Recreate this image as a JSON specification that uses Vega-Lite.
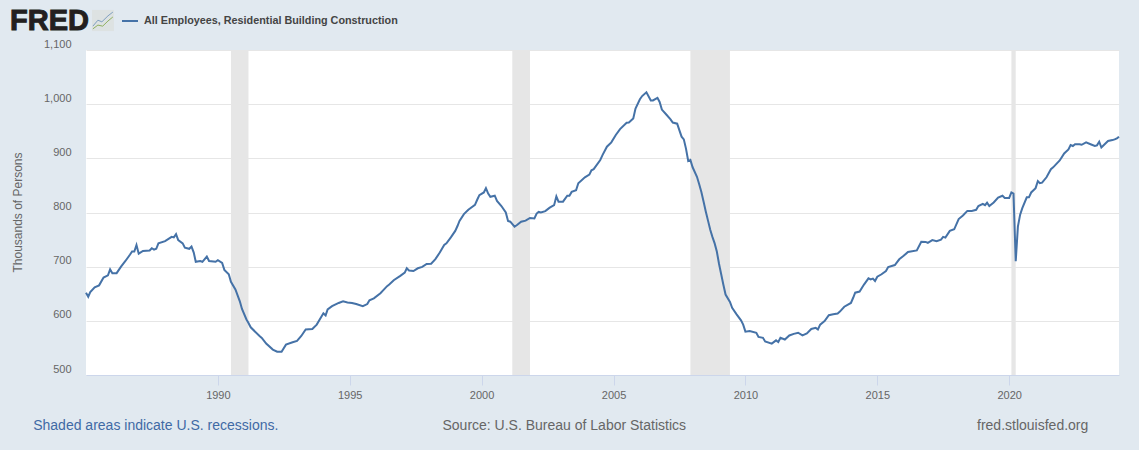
{"$schema":"https://vega.github.io/schema/vega-lite/v6.json","width":1033,"height":325,"autosize":"none","padding":{"left":86,"top":50,"right":20,"bottom":75},"background":"#e1e9f0","config":{"font":"Liberation Sans","view":{"fill":"#ffffff","stroke":null}},
"datasets":{
"employees":[
{"date":"1985-01-01","value":652},{"date":"1985-02-01","value":644.5},{"date":"1985-03-01","value":653},{"date":"1985-05-01","value":662},{"date":"1985-07-01","value":665.5},{"date":"1985-09-01","value":680},{"date":"1985-11-01","value":684},{"date":"1985-12-01","value":695},
{"date":"1986-01-01","value":688},{"date":"1986-03-01","value":688},{"date":"1986-05-01","value":700},{"date":"1986-07-01","value":710.5},{"date":"1986-09-01","value":722},{"date":"1986-10-01","value":728},{"date":"1986-11-01","value":728},{"date":"1986-12-01","value":740},
{"date":"1987-01-01","value":724},{"date":"1987-03-01","value":729},{"date":"1987-06-01","value":730},{"date":"1987-07-01","value":734},{"date":"1987-08-01","value":731.5},{"date":"1987-09-01","value":733},{"date":"1987-10-01","value":743},
{"date":"1988-01-01","value":747},{"date":"1988-04-01","value":755},{"date":"1988-05-01","value":754},{"date":"1988-06-01","value":760},{"date":"1988-07-01","value":749},{"date":"1988-09-01","value":743},{"date":"1988-10-01","value":735},{"date":"1988-12-01","value":733},
{"date":"1989-01-01","value":737},{"date":"1989-02-01","value":726},{"date":"1989-03-01","value":709},{"date":"1989-05-01","value":710.5},{"date":"1989-06-01","value":709},{"date":"1989-08-01","value":718.5},{"date":"1989-09-01","value":710.5},{"date":"1989-12-01","value":709},
{"date":"1990-01-01","value":712},{"date":"1990-03-01","value":707},{"date":"1990-04-01","value":694},{"date":"1990-06-01","value":686},{"date":"1990-07-01","value":672},{"date":"1990-09-01","value":658},{"date":"1990-11-01","value":636},{"date":"1990-12-01","value":622},
{"date":"1991-02-01","value":602.5},{"date":"1991-03-01","value":596},{"date":"1991-04-01","value":588},{"date":"1991-08-01","value":572},{"date":"1991-09-01","value":568.5},{"date":"1991-11-01","value":558},
{"date":"1992-02-01","value":547},{"date":"1992-04-01","value":543},{"date":"1992-06-01","value":543},{"date":"1992-08-01","value":556},{"date":"1992-11-01","value":560.5},
{"date":"1993-01-01","value":563},{"date":"1993-03-01","value":572},{"date":"1993-05-01","value":584},{"date":"1993-08-01","value":585},{"date":"1993-10-01","value":593},
{"date":"1994-01-01","value":614},{"date":"1994-02-01","value":610},{"date":"1994-03-01","value":621},{"date":"1994-05-01","value":627},{"date":"1994-08-01","value":633},{"date":"1994-10-01","value":636},{"date":"1994-12-01","value":634},
{"date":"1995-02-01","value":633},{"date":"1995-04-01","value":631},{"date":"1995-07-01","value":627},{"date":"1995-09-01","value":631},{"date":"1995-10-01","value":638},{"date":"1995-12-01","value":641.5},
{"date":"1996-03-01","value":651},{"date":"1996-06-01","value":664},{"date":"1996-07-01","value":667},{"date":"1996-09-01","value":675},{"date":"1996-12-01","value":683},
{"date":"1997-02-01","value":689},{"date":"1997-03-01","value":697},{"date":"1997-04-01","value":693},{"date":"1997-06-01","value":692},{"date":"1997-08-01","value":697},{"date":"1997-10-01","value":699.5},{"date":"1997-12-01","value":705},
{"date":"1998-02-01","value":705.5},{"date":"1998-04-01","value":714},{"date":"1998-06-01","value":726},{"date":"1998-08-01","value":740},{"date":"1998-09-01","value":743},{"date":"1998-11-01","value":754},
{"date":"1999-01-01","value":766},{"date":"1999-02-01","value":775},{"date":"1999-03-01","value":784.5},{"date":"1999-05-01","value":797},{"date":"1999-07-01","value":805},{"date":"1999-10-01","value":814},{"date":"1999-11-01","value":823.5},{"date":"1999-12-01","value":832},
{"date":"2000-02-01","value":837},{"date":"2000-03-01","value":845},{"date":"2000-04-01","value":835},{"date":"2000-05-01","value":829},{"date":"2000-07-01","value":831},{"date":"2000-08-01","value":821.5},{"date":"2000-10-01","value":812},{"date":"2000-12-01","value":800},
{"date":"2001-01-01","value":784.5},{"date":"2001-02-01","value":783},{"date":"2001-04-01","value":774},{"date":"2001-05-01","value":776.5},{"date":"2001-07-01","value":783},{"date":"2001-09-01","value":785},{"date":"2001-11-01","value":790},
{"date":"2002-01-01","value":789},{"date":"2002-02-01","value":798},{"date":"2002-03-01","value":801},{"date":"2002-04-01","value":800},{"date":"2002-06-01","value":802.5},{"date":"2002-08-01","value":809},{"date":"2002-10-01","value":813.5},{"date":"2002-11-01","value":829.6},{"date":"2002-12-01","value":820},
{"date":"2003-02-01","value":820},{"date":"2003-04-01","value":831},{"date":"2003-05-01","value":831},{"date":"2003-06-01","value":838},{"date":"2003-08-01","value":841},{"date":"2003-09-01","value":854},{"date":"2003-12-01","value":865},
{"date":"2004-02-01","value":870},{"date":"2004-03-01","value":878},{"date":"2004-04-01","value":880},{"date":"2004-07-01","value":897},{"date":"2004-08-01","value":906},{"date":"2004-10-01","value":921.5},{"date":"2004-12-01","value":929.5},
{"date":"2005-02-01","value":943},{"date":"2005-04-01","value":954},{"date":"2005-07-01","value":965.6},{"date":"2005-08-01","value":966},{"date":"2005-10-01","value":973.6},{"date":"2005-11-01","value":992},
{"date":"2006-01-01","value":1009},{"date":"2006-02-01","value":1015},{"date":"2006-04-01","value":1022},{"date":"2006-06-01","value":1007},{"date":"2006-07-01","value":1007},{"date":"2006-09-01","value":1011.7},{"date":"2006-10-01","value":1004},{"date":"2006-11-01","value":990},
{"date":"2007-01-01","value":981},{"date":"2007-03-01","value":972},{"date":"2007-04-01","value":966},{"date":"2007-06-01","value":964},{"date":"2007-07-01","value":952},{"date":"2007-08-01","value":940},{"date":"2007-09-01","value":935},{"date":"2007-10-01","value":918},{"date":"2007-11-01","value":895},{"date":"2007-12-01","value":897},
{"date":"2008-01-01","value":883.5},{"date":"2008-03-01","value":866},{"date":"2008-04-01","value":852},{"date":"2008-05-01","value":838},{"date":"2008-06-01","value":820},{"date":"2008-07-01","value":802},{"date":"2008-08-01","value":785},{"date":"2008-09-01","value":768},{"date":"2008-10-01","value":755},{"date":"2008-11-01","value":743},{"date":"2008-12-01","value":728},
{"date":"2009-01-01","value":705},{"date":"2009-02-01","value":685},{"date":"2009-03-01","value":667},{"date":"2009-04-01","value":648.5},{"date":"2009-06-01","value":635},{"date":"2009-07-01","value":624},{"date":"2009-09-01","value":612},{"date":"2009-11-01","value":601},{"date":"2009-12-01","value":593},
{"date":"2010-01-01","value":580},{"date":"2010-03-01","value":581},{"date":"2010-06-01","value":578},{"date":"2010-07-01","value":570.4},{"date":"2010-09-01","value":568.6},{"date":"2010-10-01","value":562},
{"date":"2011-01-01","value":558},{"date":"2011-03-01","value":564},{"date":"2011-04-01","value":561},{"date":"2011-05-01","value":568.6},{"date":"2011-07-01","value":565.5},{"date":"2011-09-01","value":573},{"date":"2011-11-01","value":576},
{"date":"2012-01-01","value":578},{"date":"2012-03-01","value":573},{"date":"2012-05-01","value":576.6},{"date":"2012-07-01","value":585},{"date":"2012-09-01","value":587},{"date":"2012-10-01","value":584},{"date":"2012-11-01","value":593},
{"date":"2013-01-01","value":599.4},{"date":"2013-03-01","value":610.5},{"date":"2013-05-01","value":612},{"date":"2013-07-01","value":613.6},{"date":"2013-08-01","value":617},{"date":"2013-10-01","value":626},
{"date":"2014-01-01","value":633},{"date":"2014-02-01","value":642.6},{"date":"2014-03-01","value":652},{"date":"2014-05-01","value":654},{"date":"2014-07-01","value":667},{"date":"2014-09-01","value":678.4},{"date":"2014-10-01","value":676.5},{"date":"2014-11-01","value":678},{"date":"2014-12-01","value":673.5},
{"date":"2015-01-01","value":681.5},{"date":"2015-03-01","value":686},{"date":"2015-05-01","value":692},{"date":"2015-06-01","value":699.4},{"date":"2015-09-01","value":703},{"date":"2015-11-01","value":713.6},
{"date":"2016-01-01","value":720},{"date":"2016-03-01","value":727},{"date":"2016-07-01","value":730},{"date":"2016-09-01","value":746},{"date":"2016-11-01","value":745.7},{"date":"2016-12-01","value":743.8},
{"date":"2017-02-01","value":749},{"date":"2017-04-01","value":747},{"date":"2017-06-01","value":750},{"date":"2017-07-01","value":755},{"date":"2017-08-01","value":753.7},{"date":"2017-10-01","value":766},{"date":"2017-12-01","value":769},
{"date":"2018-02-01","value":788},{"date":"2018-04-01","value":794.5},{"date":"2018-06-01","value":803},{"date":"2018-08-01","value":803},{"date":"2018-10-01","value":805},{"date":"2018-11-01","value":812},
{"date":"2019-01-01","value":816},{"date":"2019-02-01","value":813.5},{"date":"2019-03-01","value":818},{"date":"2019-04-01","value":812},{"date":"2019-06-01","value":818.4},{"date":"2019-08-01","value":827.6},{"date":"2019-10-01","value":831},{"date":"2019-11-01","value":827},
{"date":"2020-01-01","value":827},{"date":"2020-02-01","value":837},{"date":"2020-03-01","value":835},{"date":"2020-04-01","value":710},{"date":"2020-05-01","value":774},{"date":"2020-06-01","value":796},{"date":"2020-07-01","value":808},{"date":"2020-09-01","value":828},{"date":"2020-10-01","value":828},{"date":"2020-11-01","value":837},
{"date":"2021-01-01","value":845},{"date":"2021-02-01","value":858},{"date":"2021-03-01","value":854},{"date":"2021-04-01","value":855},{"date":"2021-06-01","value":865},{"date":"2021-08-01","value":880},{"date":"2021-09-01","value":883.4},{"date":"2021-12-01","value":896},
{"date":"2022-02-01","value":909},{"date":"2022-04-01","value":916.5},{"date":"2022-05-01","value":924.5},{"date":"2022-06-01","value":922.7},{"date":"2022-07-01","value":926},{"date":"2022-09-01","value":926},{"date":"2022-10-01","value":925},{"date":"2022-12-01","value":929.4},
{"date":"2023-02-01","value":926},{"date":"2023-04-01","value":922.7},{"date":"2023-05-01","value":924},{"date":"2023-06-01","value":930.7},{"date":"2023-07-01","value":920},{"date":"2023-08-01","value":924},{"date":"2023-10-01","value":932},{"date":"2023-12-01","value":933.7},
{"date":"2024-01-01","value":935},{"date":"2024-02-01","value":937},{"date":"2024-03-01","value":940}
],
"recessions":[{"start":"1990-07-01","end":"1991-03-01"},{"start":"2001-03-01","end":"2001-11-01"},{"start":"2007-12-01","end":"2009-06-01"},{"start":"2020-02-01","end":"2020-04-01"}],
"logoLines":[
{"date":"1985-04-06","value":1144},{"date":"1985-06-15","value":1155},{"date":"1985-08-09","value":1152},{"date":"1985-11-01","value":1163},{"date":"1986-01-08","value":1170}
],
"logoLines2":[
{"date":"1985-04-06","value":1139},{"date":"1985-06-15","value":1146},{"date":"1985-08-20","value":1144},{"date":"1985-11-01","value":1153.5},{"date":"1986-01-08","value":1161}
]},
"layer":[
{"data":{"name":"recessions"},"mark":{"type":"rect","color":"#e6e6e6"},"encoding":{
"x":{"field":"start","type":"temporal","scale":{"type":"utc","domain":["1985-01-01","2024-03-01"]},"axis":{"title":null,"grid":false,"values":[{"year":1990,"utc":true},{"year":1995,"utc":true},{"year":2000,"utc":true},{"year":2005,"utc":true},{"year":2010,"utc":true},{"year":2015,"utc":true},{"year":2020,"utc":true}],"format":"%Y","tickSize":10,"tickColor":"#ccd6eb","domainColor":"#ccd6eb","labelColor":"#666666","labelFontSize":11,"labelPadding":4}},
"x2":{"field":"end"},
"y":{"datum":500,"type":"quantitative","scale":{"domain":[500,1100],"nice":false,"zero":false},"axis":{"title":"Thousands of Persons","titleFontSize":12,"titleFontWeight":"normal","titleColor":"#666666","titleX":-62,"titleY":162,"values":[500,600,700,800,900,1000,1100],"labelExpr":"format(datum.value, ',')","grid":true,"gridColor":"#e6e6e6","domain":false,"ticks":false,"labelColor":"#666666","labelFontSize":11,"labelPadding":15,"labelOffset":-6}},
"y2":{"datum":1100}}},
{"data":{"name":"employees"},"mark":{"type":"line","strokeWidth":2,"interpolate":"linear"},"encoding":{
"x":{"field":"date","type":"temporal"},
"y":{"field":"value","type":"quantitative"},
"color":{"datum":"All Employees, Residential Building Construction","scale":{"range":["#4572a7"]},"legend":{"orient":"none","legendX":35,"legendY":-38,"title":null,"symbolType":"stroke","symbolSize":256,"symbolStrokeWidth":2,"labelFontSize":10.8,"labelFontWeight":"bold","labelColor":"#444444","labelLimit":400,"labelOffset":5}}}},
{"data":{"values":[{"date":"1983-01-01","value":405,"text":"Shaded areas indicate U.S. recessions."}]},"mark":{"type":"text","align":"left","baseline":"middle","fontSize":14,"color":"#3f6aa5"},"encoding":{
"x":{"field":"date","type":"temporal"},
"y":{"field":"value","type":"quantitative"},
"text":{"field":"text"}}},
{"data":{"values":[{"date":"1998-07-08","value":405,"text":"Source: U.S. Bureau of Labor Statistics"}]},"mark":{"type":"text","align":"left","baseline":"middle","fontSize":14,"color":"#666666"},"encoding":{
"x":{"field":"date","type":"temporal"},
"y":{"field":"value","type":"quantitative"},
"text":{"field":"text"}}},
{"data":{"values":[{"date":"2023-01-01","value":405,"text":"fred.stlouisfed.org"}]},"mark":{"type":"text","align":"right","baseline":"middle","fontSize":14,"color":"#666666"},"encoding":{
"x":{"field":"date","type":"temporal"},
"y":{"field":"value","type":"quantitative"},
"text":{"field":"text"}}},
{"data":{"values":[{"date":"1982-02-15","value":1154,"text":"FRED"}]},"mark":{"type":"text","align":"left","baseline":"middle","fontSize":29,"fontWeight":"bold","color":"#231f20","stroke":"#231f20","strokeWidth":1},"encoding":{
"x":{"field":"date","type":"temporal"},
"y":{"field":"value","type":"quantitative"},
"text":{"field":"text"}}},
{"data":{"values":[{"start":"1985-03-25","end":"1986-01-23","low":1135,"high":1174}]},"mark":{"type":"rect","color":"#dde2e2"},"encoding":{
"x":{"field":"start","type":"temporal"},"x2":{"field":"end"},
"y":{"field":"low","type":"quantitative"},"y2":{"field":"high"}}},
{"data":{"name":"logoLines"},"mark":{"type":"line","strokeWidth":1,"color":"#7f9fc0"},"encoding":{
"x":{"field":"date","type":"temporal"},
"y":{"field":"value","type":"quantitative"}}},
{"data":{"name":"logoLines2"},"mark":{"type":"line","strokeWidth":1,"color":"#8fb060"},"encoding":{
"x":{"field":"date","type":"temporal"},
"y":{"field":"value","type":"quantitative"}}}
]
}
